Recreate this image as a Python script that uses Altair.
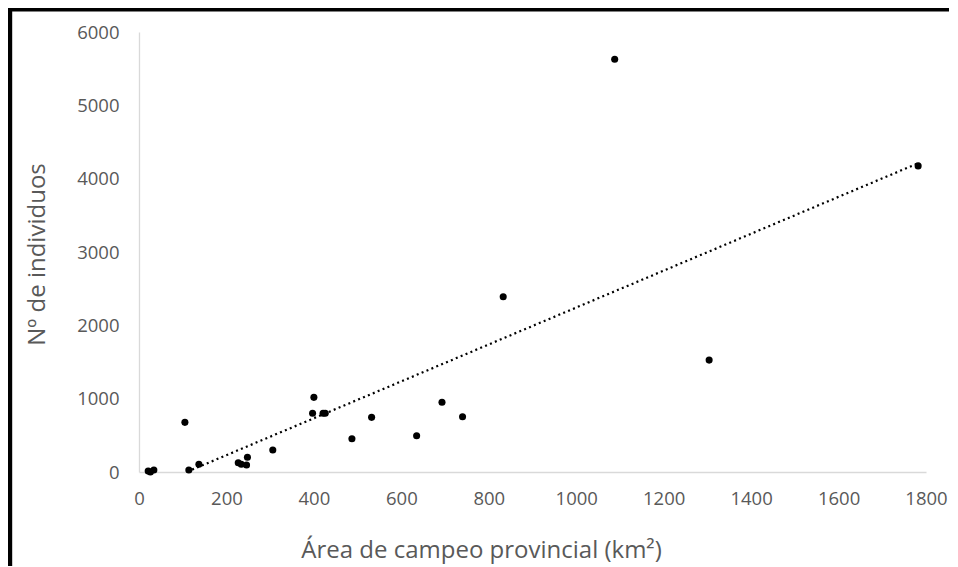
import altair as alt
import pandas as pd

# Data
area_km2 = [21, 26, 34, 105, 114, 137, 227, 234, 246, 248, 306, 397, 400, 421, 426,
            487, 532, 635, 693, 740, 833, 1088, 1304, 1782]
individuos = [14, 0, 27, 677, 27, 105, 127, 105, 95, 200, 300, 800, 1018, 800, 800,
              454, 745, 495, 950, 754, 2389, 5628, 1526, 4174]

x_ticks = [0, 200, 400, 600, 800, 1000, 1200, 1400, 1600, 1800]
y_ticks = [0, 1000, 2000, 3000, 4000, 5000, 6000]

df = pd.DataFrame({"area": area_km2, "ind": individuos})

FONT = "Open Sans"
GREY = "#595959"

x_enc = alt.X(
    "area:Q",
    scale=alt.Scale(domain=[0, 1800], nice=False, zero=True),
    axis=alt.Axis(
        values=x_ticks, format="d", title="Área de campeo provincial (km²)", grid=False, ticks=False,
        domainColor="#d9d9d9", domainWidth=1.3, labelColor=GREY, labelFont=FONT,
        labelFontSize=18.5, labelPadding=17, labelBaseline="top", labelFlush=False,
        labelOverlap=False,
        titleFont=FONT, titleFontSize=24, titleFontWeight="normal", titleColor=GREY,
        titleX=342, titleY=78, titleAlign="center", titleBaseline="middle",
    ),
)
y_enc = alt.Y(
    "ind:Q",
    scale=alt.Scale(domain=[0, 6000], nice=False),
    axis=alt.Axis(
        values=y_ticks, format="d", title="Nº de individuos", grid=False, ticks=False,
        domainColor="#d9d9d9", domainWidth=1.3, labelColor=GREY, labelFont=FONT,
        labelFontSize=18.5, labelPadding=20, labelFlush=False, labelOverlap=False,
        titleFont=FONT, titleFontSize=24, titleFontWeight="normal", titleColor=GREY,
        titleX=-102, titleY=222, titleAlign="center", titleBaseline="middle", titleAngle=-90,
    ),
)

base = alt.Chart(df)

trend = base.transform_regression("area", "ind", method="linear").mark_line(
    color="black", strokeWidth=2.2, strokeDash=[2, 3.3], clip=True
).encode(x=x_enc, y=y_enc)

points = base.mark_circle(color="black", size=50, opacity=1).encode(x=x_enc, y=y_enc)

frame_df = pd.DataFrame({"k": [0]})
top_line = alt.Chart(frame_df).mark_rule(color="black", strokeWidth=4).encode(
    x=alt.value(-132), x2=alt.value(830), y=alt.value(-22.5)
)
left_line = alt.Chart(frame_df).mark_rule(color="black", strokeWidth=5).encode(
    x=alt.value(-129.3), y=alt.value(-25), y2=alt.value(540)
)

chart = alt.layer(trend, points, top_line, left_line).properties(
    width=787, height=440,
    autosize=alt.AutoSizeParams(type="none"),
    padding={"left": 131, "top": 24, "right": 23, "bottom": 94},
    background="white",
).configure_view(stroke=None)

chart.save("out.html", embed_options={"renderer": "svg", "actions": False})
